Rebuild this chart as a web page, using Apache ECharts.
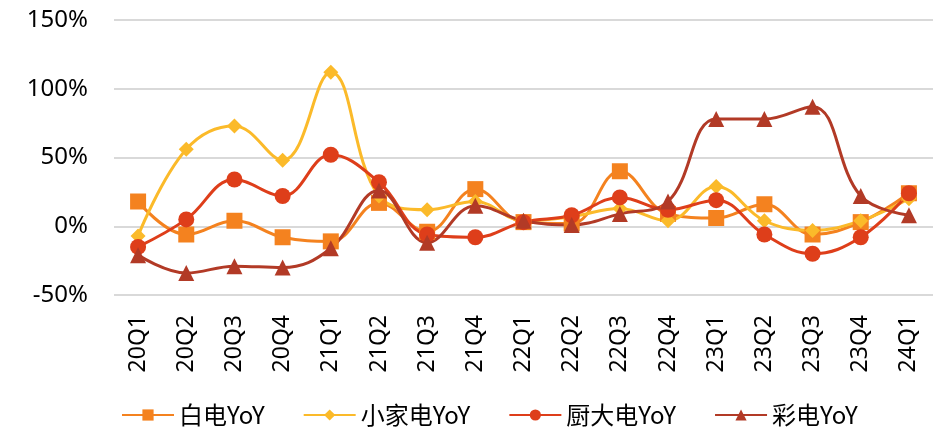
<!DOCTYPE html>
<html><head><meta charset="utf-8">
<script src="https://cdn.jsdelivr.net/npm/echarts@6/dist/echarts.min.js"></script>
<style>html,body{margin:0;padding:0;background:#fff}#c{width:933px;height:428px}</style>
</head><body><div id="c"></div>
<script>
const categories = ['20Q1','20Q2','20Q3','20Q4','21Q1','21Q2','21Q3','21Q4','22Q1','22Q2','22Q3','22Q4','23Q1','23Q2','23Q3','23Q4','24Q1'];
const baiDian = [18, -6, 4, -8, -11, 17, -4, 27, 3, 2, 40, 9, 6, 16, -6, 3, 24];
const xiaoJiaDian = [-7, 56, 73, 48, 112, 22, 12, 18, 4, 7, 13, 4, 29, 4, -3, 4, 20];
const chuDaDian = [-15, 5, 34, 22, 52, 32, -6, -8, 3, 8, 21, 12, 19, -6, -20, -8, 24];
const caiDian = [-21, -34, -29, -30, -16, 26, -12, 15, 4, 1, 9, 18, 78, 78, 87, 22, 8];
const yTicks = { min: -50, max: 150, interval: 50 };

const font = '"Noto Sans CJK SC", "Noto Sans", sans-serif';
function mk(name, data, color, symbol, size) {
  return {
    name, type: 'line', data, smooth: 0.4,
    symbol, symbolSize: size,
    lineStyle: { color, width: 3 },
    itemStyle: { color },
    emphasis: { disabled: true }
  };
}
const chart = echarts.init(document.getElementById('c'));
chart.setOption({
  animation: false,
  grid: { left: 114, right: -4, top: 20, bottom: 133 },
  xAxis: {
    type: 'category', data: categories, boundaryGap: true,
    axisLine: { show: false }, axisTick: { show: false },
    axisLabel: { rotate: 90, color: '#000', fontSize: 23, fontFamily: '"Noto Sans", sans-serif', margin: 20 }
  },
  yAxis: {
    type: 'value', min: yTicks.min, max: yTicks.max, interval: yTicks.interval,
    axisLine: { show: false }, axisTick: { show: false },
    splitLine: { lineStyle: { color: '#d9d9d9', width: 2 } },
    axisLabel: { color: '#000', fontSize: 24, fontFamily: '"Noto Sans", sans-serif', margin: 26, formatter: v => v + '%' }
  },
  legend: {
    top: 398, left: 116, itemGap: 38, itemWidth: 52, itemHeight: 14,
    textStyle: { color: '#000', fontSize: 24, fontFamily: font }
  },
  series: [
    mk('白电YoY', baiDian, '#F4821F', 'rect', 16),
    mk('小家电YoY', xiaoJiaDian, '#FBBA2A', 'diamond', 15),
    mk('厨大电YoY', chuDaDian, '#DE3E1A', 'circle', 16),
    mk('彩电YoY', caiDian, '#B23A26', 'triangle', 16)
  ]
});
</script></body></html>
